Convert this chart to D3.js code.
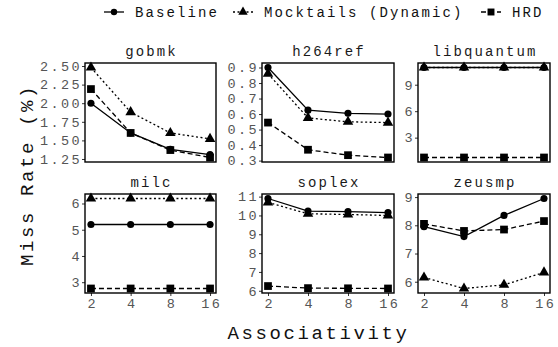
<!DOCTYPE html>
<html>
<head>
<meta charset="utf-8">
<script src="https://cdn.jsdelivr.net/npm/d3@7"></script>
<style>
  body { margin: 0; background: #fff; }
  text { font-family: "Liberation Mono", "Courier New", monospace; }
</style>
</head>
<body>
<script>
var outerWidth = 558;
var outerHeight = 347;

// chart data
var assoc = [2, 4, 8, 16];
var benchmarks = ["gobmk", "h264ref", "libquantum", "milc", "soplex", "zeusmp"];
var seriesNames = ["Baseline", "Mocktails (Dynamic)", "HRD"];
var baseline = [
  [2.00, 1.60, 1.38, 1.31],
  [0.90, 0.625, 0.605, 0.60],
  [10.95, 10.95, 10.95, 10.95],
  [5.20, 5.20, 5.20, 5.20],
  [10.90, 10.23, 10.20, 10.15],
  [7.95, 7.60, 8.35, 8.95]
];
var mocktails = [
  [2.48, 1.88, 1.60, 1.52],
  [0.86, 0.575, 0.55, 0.545],
  [10.95, 10.95, 10.95, 10.95],
  [6.19, 6.19, 6.19, 6.19],
  [10.69, 10.09, 10.05, 10.00],
  [6.15, 5.76, 5.89, 6.33]
];
var hrd = [
  [2.19, 1.60, 1.37, 1.27],
  [0.545, 0.37, 0.335, 0.32],
  [0.75, 0.75, 0.75, 0.75],
  [2.76, 2.76, 2.76, 2.76],
  [6.25, 6.14, 6.13, 6.12],
  [8.05, 7.80, 7.85, 8.15]
];
var yTicks = [
  ["1.25", "1.50", "1.75", "2.00", "2.25", "2.50"],
  ["0.3", "0.4", "0.5", "0.6", "0.7", "0.8", "0.9"],
  ["3", "6", "9"],
  ["3", "4", "5", "6"],
  ["6", "7", "8", "9", "10", "11"],
  ["6", "7", "8", "9"]
];

var seriesData = [baseline, mocktails, hrd];
var dashes = [null, "2,2.5", "5,3"];
var shapes = [d3.symbolCircle, d3.symbolTriangle, d3.symbolSquare];
var shapeSizes = [40, 48, 60];

// panel layout (free y scales, like facet_wrap)
var colX = [[85, 216], [262, 394], [418, 550]];
var rowY = [[63, 162], [194, 293]];

// courier-like pitch: small glyphs, wide spacing
function mono(sel, size, spacing) {
  sel.style("font-family", "Liberation Mono")
     .style("font-size", size + "px")
     .style("letter-spacing", spacing + "px");
}

var svg = d3.select("body").append("svg")
    .attr("width", outerWidth)
    .attr("height", outerHeight);

benchmarks.forEach(function(name, i) {
  var col = colX[i % 3], row = rowY[Math.floor(i / 3)];

  var x = d3.scaleLog().base(2)
      .domain([2 / Math.pow(2, 0.15), 16 * Math.pow(2, 0.15)])
      .range(col);

  var all = d3.merge(seriesData.map(function(s) { return s[i]; }));
  var ext = d3.extent(all);
  var pad = (ext[1] - ext[0]) * 0.05;
  var y = d3.scaleLinear()
      .domain([ext[0] - pad, ext[1] + pad])
      .range([row[1], row[0]]);

  var g = svg.append("g");

  // strip title
  g.append("text")
      .attr("x", (col[0] + col[1]) / 2 + 1)
      .attr("y", row[0] - 7)
      .attr("text-anchor", "middle")
      .attr("fill", "#1a1a1a")
      .call(mono, 14, 2.1)
      .text(name);

  // y axis
  var yAxis = g.append("g")
      .attr("transform", "translate(" + col[0] + ",0)")
      .call(d3.axisLeft(y)
        .tickValues(yTicks[i].map(Number))
        .tickFormat(function(d, k) { return yTicks[i][k]; })
        .tickSize(3).tickPadding(0));
  yAxis.select(".domain").remove();
  yAxis.selectAll("line").attr("stroke", "#333");
  yAxis.selectAll("text").attr("fill", "#555").call(mono, 13.5, 2.4);

  // x axis only on bottom row
  if (i >= 3) {
    var xAxis = g.append("g")
        .attr("transform", "translate(0," + row[1] + ")")
        .call(d3.axisBottom(x).tickValues(assoc)
          .tickFormat(d3.format("d")).tickSize(3).tickPadding(2));
    xAxis.select(".domain").remove();
    xAxis.selectAll("line").attr("stroke", "#333");
    xAxis.selectAll("text").attr("fill", "#555").attr("dx", "1.2px")
        .call(mono, 13.5, 2.4);
  }

  // series lines and markers
  seriesData.forEach(function(s, k) {
    var line = d3.line()
        .x(function(d, j) { return x(assoc[j]); })
        .y(function(d) { return y(d); });
    g.append("path")
        .datum(s[i])
        .attr("d", line)
        .attr("fill", "none")
        .attr("stroke", "#000")
        .attr("stroke-width", 1.3)
        .attr("stroke-dasharray", dashes[k]);
    g.selectAll(".pt" + k)
        .data(s[i])
        .enter().append("path")
        .attr("class", "pt" + k)
        .attr("transform", function(d, j) {
          return "translate(" + x(assoc[j]) + "," + y(d) + ")";
        })
        .attr("d", d3.symbol().type(shapes[k]).size(shapeSizes[k]));
  });

  // panel border
  g.append("rect")
      .attr("x", col[0]).attr("y", row[0])
      .attr("width", col[1] - col[0]).attr("height", row[1] - row[0])
      .attr("fill", "none")
      .attr("stroke", "#000")
      .attr("stroke-width", 1.4);
});

// axis titles
svg.append("text")
    .attr("x", (colX[0][0] + colX[2][1]) / 2 + 1)
    .attr("y", 339)
    .attr("text-anchor", "middle")
    .attr("fill", "#111")
    .call(mono, 19, 2.6)
    .text("Associativity");

svg.append("text")
    .attr("transform", "translate(33," + 175 + ") rotate(-90)")
    .attr("text-anchor", "middle")
    .attr("fill", "#111")
    .call(mono, 19, 2.6)
    .text("Miss Rate (%)");

// legend
var legendX = [104, 233, 481];
var legend = svg.append("g").attr("transform", "translate(0,12)");
seriesNames.forEach(function(n, k) {
  var lg = legend.append("g").attr("transform", "translate(" + legendX[k] + ",0)");
  lg.append("line")
      .attr("x1", 0).attr("x2", 20)
      .attr("stroke", "#000").attr("stroke-width", 1.3)
      .attr("stroke-dasharray", dashes[k]);
  lg.append("path")
      .attr("transform", "translate(10,0)")
      .attr("d", d3.symbol().type(shapes[k]).size(shapeSizes[k] * 0.8));
  lg.append("text")
      .attr("x", 31).attr("y", 5)
      .attr("fill", "#111")
      .call(mono, 14, 2.1)
      .text(n);
});
</script>
</body>
</html>
